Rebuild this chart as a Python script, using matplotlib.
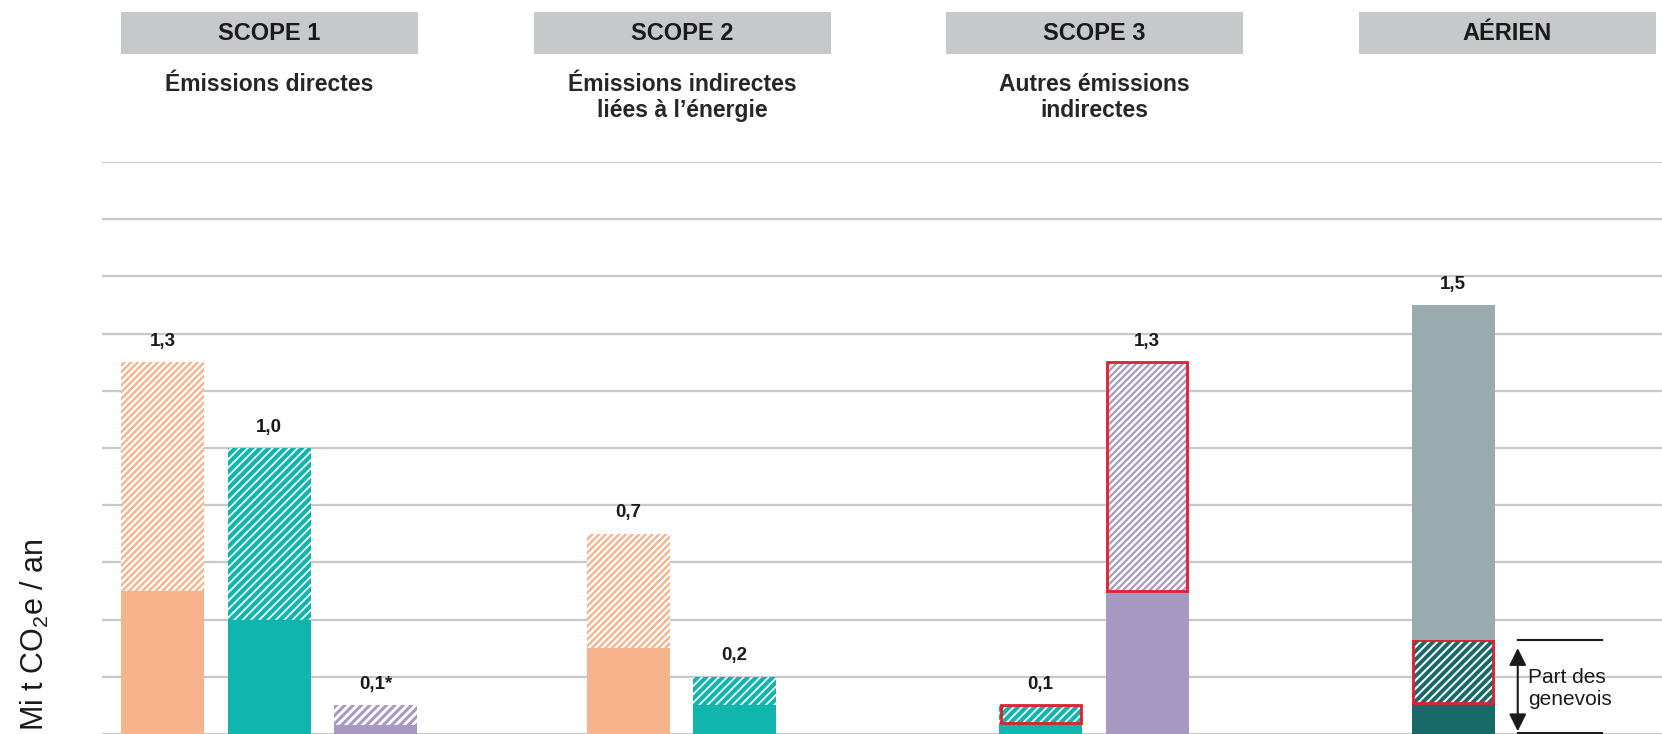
import matplotlib
matplotlib.use("Agg")
import matplotlib.pyplot as plt
from matplotlib.patches import Rectangle

plt.rcParams['font.family'] = ['Liberation Sans', 'DejaVu Sans']
plt.rcParams['mathtext.fontset'] = 'custom'
plt.rcParams['mathtext.rm'] = 'Liberation Sans'
plt.rcParams['mathtext.it'] = 'Liberation Sans:italic'

# Data (Mi t CO2e / an)
groups = ["SCOPE 1", "SCOPE 2", "SCOPE 3", "AÉRIEN"]
subtitles = ["Émissions directes", "Émissions indirectes\nliées à l’énergie",
             "Autres émissions\nindirectes", ""]
bar_group = [0, 0, 0, 1, 1, 2, 2, 3]
solid_part = [0.5, 0.4, 0.03, 0.3, 0.1, 0.04, 0.5, 0.11]
hatched_top = [1.3, 1.0, 0.1, 0.7, 0.2, 0.1, 1.3, 0.33]
bar_kind = ["orange", "teal", "purple", "orange", "teal", "teal", "purple", "darkteal"]
red_outline = [False, False, False, False, False, True, True, True]
value_labels = ["1,3", "1,0", "0,1*", "0,7", "0,2", "0,1", "1,3", "1,5"]
aerien_total = 1.5
genevois_label = "Part des\ngenevois"

# Styles
colors = {"orange": "#f7b38b", "teal": "#10b6ae", "purple": "#a899c3",
          "darkteal": "#18696a"}
bar_hatch = ["/////", "////", "////", "/////", "////", "////", "/////", "////"]
hatch_lw = [1.7, 3.0, 2.2, 1.7, 3.0, 3.0, 1.6, 2.8]
aerien_grey = "#9aabaf"
red = "#e0202e"

# layout in pixel-like x units
slot = [0, 1, 2, 0.5, 1.5, 0.5, 1.5, 0.5]
group_step = 412.5
group_x0 = 121
slot_step = 106.5
bar_w = 83
box_w = 297

fig = plt.figure(figsize=(16.62, 7.34), dpi=100)
ax = fig.add_axes([102 / 1662, 0.0, 1 - 102 / 1662, (734 - 162) / 734])
ax.set_xlim(102, 1662)
ax.set_ylim(0, 2.0)
ax.set_yticks([i * 0.2 for i in range(11)])
ax.grid(axis='y', color='#c8c8c8', linewidth=1.6)
ax.set_axisbelow(True)
ax.tick_params(left=False, bottom=False, labelleft=False, labelbottom=False)
for s in ax.spines.values():
    s.set_visible(False)

xs = [group_x0 + g * group_step + bar_w / 2 + k * slot_step for g, k in zip(bar_group, slot)]

for i, x in enumerate(xs):
    kind = bar_kind[i]
    c = colors[kind]
    ax.bar(x, solid_part[i], width=bar_w, color=c, linewidth=0)
    with plt.rc_context({'hatch.linewidth': hatch_lw[i]}):
        ax.bar(x, hatched_top[i] - solid_part[i], bottom=solid_part[i], width=bar_w,
               facecolor='white', edgecolor=c, hatch=bar_hatch[i], linewidth=0)
    if red_outline[i]:
        ax.bar(x, hatched_top[i] - solid_part[i], bottom=solid_part[i], width=bar_w - 3,
               facecolor='none', edgecolor=red, linewidth=2)
    top = hatched_top[i]
    if bar_kind[i] == "darkteal":
        ax.bar(x, aerien_total - top, bottom=top, width=bar_w, color=aerien_grey, linewidth=0)
        top = aerien_total
    ax.annotate(value_labels[i], (x, top), xytext=(0, 15), textcoords='offset points',
                ha='center', va='center', fontsize=13.5, fontweight='bold', color='#1a1a1a')

# headers
for g, name in enumerate(groups):
    x0 = group_x0 + g * group_step
    ax.add_patch(Rectangle((x0, 2.378), box_w, 0.146, facecolor='#c7c8ca',
                           edgecolor='none', clip_on=False))
    ax.text(x0 + box_w / 2, 2.451, name, ha='center', va='center', fontsize=17,
            fontweight='bold', color='#1a1a1a', clip_on=False)
    if subtitles[g]:
        ax.text(x0 + box_w / 2, 2.31, subtitles[g], ha='center', va='top', fontsize=16.5,
                fontweight='bold', color='#262626', linespacing=1.15, clip_on=False)

# Part des genevois annotation
ax_i = bar_kind.index("darkteal")
xa = xs[ax_i] + bar_w / 2 + 23
ax.plot([xa, xa + 84], [hatched_top[ax_i], hatched_top[ax_i]], color='#1a1a1a', lw=1.5, clip_on=False)
ax.plot([xa, xa + 84], [0.004, 0.004], color='#1a1a1a', lw=1.5, clip_on=False)
ax.annotate('', xy=(xa, 0.0), xytext=(xa, hatched_top[ax_i] - 0.02),
            arrowprops=dict(arrowstyle='<|-|>', color='#1a1a1a', lw=1.5, mutation_scale=26),
            annotation_clip=False)
ax.text(xa + 10, 0.16, genevois_label, ha='left', va='center', fontsize=15,
        color='#1a1a1a', linespacing=1.2)

fig.text(35 / 1662, 1 - 635 / 734, "Mi t CO$_2$e / an", rotation=90, ha='center',
         va='center', fontsize=22, color='#1a1a1a')

fig.savefig("out.png", dpi=100)
